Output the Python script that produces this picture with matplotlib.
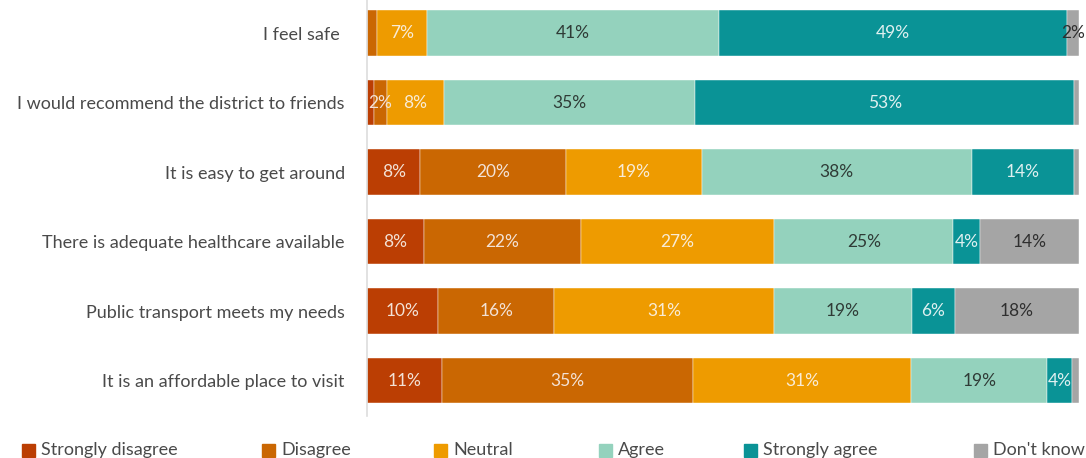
import matplotlib
matplotlib.use("Agg")
import matplotlib.pyplot as plt
from matplotlib.patches import Rectangle

categories = [
    "I feel safe ",
    "I would recommend the district to friends",
    "It is easy to get around",
    "There is adequate healthcare available",
    "Public transport meets my needs",
    "It is an affordable place to visit",
]
series_names = ["Strongly disagree", "Disagree", "Neutral", "Agree", "Strongly agree", "Don't know"]
strongly_disagree = [0.0, 1.0, 7.5, 8.0, 10.0, 10.6]
disagree = [1.4, 1.8, 20.4, 22.0, 16.3, 35.2]
neutral = [7.0, 8.0, 19.1, 27.2, 30.8, 30.6]
agree = [41.0, 35.3, 37.9, 25.1, 19.4, 19.1]
strongly_agree = [48.9, 53.2, 14.3, 3.8, 6.0, 3.5]
dont_know = [1.7, 0.7, 0.8, 13.9, 17.5, 1.0]

series = [strongly_disagree, disagree, neutral, agree, strongly_agree, dont_know]
colors = ["#bb3e03", "#ca6702", "#ee9b00", "#94d2bd", "#0a9396", "#a5a5a5"]
text_colors = ["#f3e2d6", "#f3e2d6", "#f9ecd6", "#2f3b36", "#dff0f0", "#2f2f2f"]

plt.rcParams['font.family'] = ['Lato', 'DejaVu Sans']

fig = plt.figure(figsize=(10.86, 4.58), dpi=100)
ax = fig.add_axes([367 / 1086, (458 - 416) / 458, (1086 - 367) / 1086, 416 / 458])

y = list(range(len(categories)))
left = [0.0] * len(categories)
for vals, col, tcol in zip(series, colors, text_colors):
    ax.barh(y, vals, left=left, height=0.66, color=col, edgecolor='white', linewidth=0.3)
    for i, (v, l) in enumerate(zip(vals, left)):
        if v >= 1.5:
            ax.text(l + v / 2, i, f"{round(v):.0f}%", ha='center', va='center',
                    fontsize=12.5, color=tcol)
    left = [a + b for a, b in zip(left, vals)]

ax.set_xlim(0, 100.95)
ax.set_ylim(5.51, -0.475)
ax.set_yticks(y)
ax.set_yticklabels(categories, fontsize=13, color='#4a4a4a')
ax.tick_params(axis='y', length=0, pad=16)
ax.set_xticks([])
for s in ['top', 'right', 'bottom']:
    ax.spines[s].set_visible(False)
ax.spines['left'].set_color('#dddddd')
ax.spines['left'].set_linewidth(1.2)

# legend
leg_x = [22, 262, 434, 599, 744, 974]
for name, col, x in zip(series_names, colors, leg_x):
    fig.patches.append(Rectangle((x / 1086, (458 - 457) / 458), 13 / 1086, 13 / 458,
                                 transform=fig.transFigure, color=col))
    fig.text((x + 19) / 1086, (458 - 450) / 458, name, fontsize=13, color='#4a4a4a',
             va='center', ha='left')

fig.savefig("out.png", dpi=100)
